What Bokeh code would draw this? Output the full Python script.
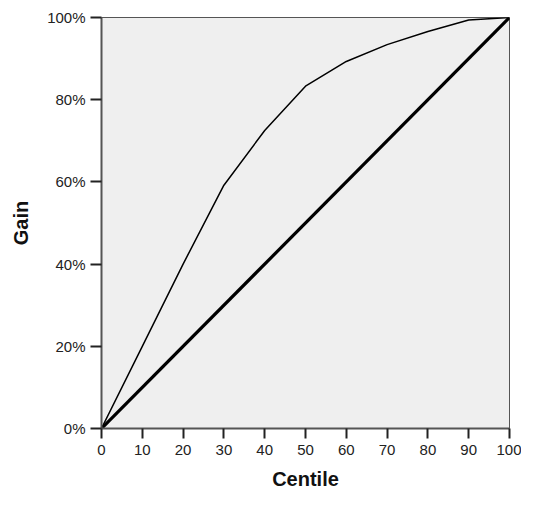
from bokeh.plotting import figure
from bokeh.models import Range1d, PrintfTickFormatter, FixedTicker
from bokeh.embed import file_html
from bokeh.resources import INLINE

centile = [0, 10, 20, 30, 40, 50, 60, 70, 80, 90, 100]
gain = [0, 20, 40, 59.2, 72.5, 83.3, 89.3, 93.4, 96.6, 99.4, 100]
base_x = [0, 100]
base_y = [0, 100]
x_ticks = [0, 10, 20, 30, 40, 50, 60, 70, 80, 90, 100]
y_ticks = [0, 20, 40, 60, 80, 100]

p = figure(width=521, height=496, output_backend="svg", toolbar_location=None,
           x_range=Range1d(0, 100), y_range=Range1d(0, 100),
           min_border_left=101, min_border_right=12, min_border_top=17, min_border_bottom=68)

p.background_fill_color = "#efefef"
p.border_fill_color = "white"
p.outline_line_color = "#555555"
p.outline_line_width = 1
p.xgrid.visible = False
p.ygrid.visible = False

p.line(base_x, base_y, line_color="black", line_width=3.2)
p.line(centile, gain, line_color="black", line_width=1.5)

p.xaxis.ticker = FixedTicker(ticks=x_ticks)
p.yaxis.ticker = FixedTicker(ticks=y_ticks)
p.yaxis.formatter = PrintfTickFormatter(format="%d%%")

for ax in (p.xaxis, p.yaxis):
    ax.axis_line_color = "#555555"
    ax.axis_line_width = 2
    ax.major_tick_line_color = "#222222"
    ax.major_tick_line_width = 2
    ax.major_tick_in = 0
    ax.minor_tick_line_color = None
    ax.major_label_text_font = "Liberation Sans"
    ax.major_label_text_font_size = "15px"
    ax.major_label_text_color = "#222222"
    ax.axis_label_text_font = "Liberation Sans"
    ax.axis_label_text_font_style = "bold"
    ax.axis_label_text_font_size = "20px"
    ax.axis_label_text_color = "#111111"

p.xaxis.axis_label = "Centile"
p.yaxis.axis_label = "Gain"
p.xaxis.major_tick_out = 10
p.yaxis.major_tick_out = 11
p.xaxis.major_label_standoff = 6
p.yaxis.major_label_standoff = 5
p.xaxis.axis_label_standoff = 10
p.yaxis.axis_label_standoff = 12

open("out.html", "w").write(file_html(p, INLINE))
